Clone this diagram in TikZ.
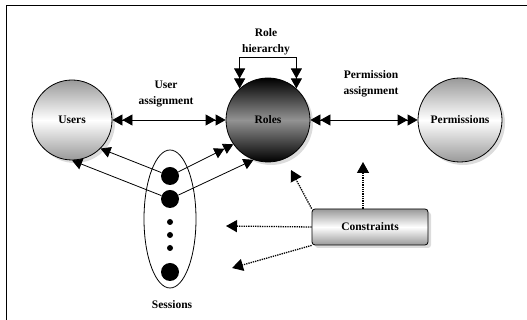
\documentclass[tikz,border=0pt]{standalone}
\usepackage{fontspec}
\setmainfont{Liberation Serif}
\usetikzlibrary{arrows.meta,shapes.geometric,shadows}

\begin{document}
\begin{tikzpicture}[x=1pt, y=1pt, line width=0.8pt,
  font=\bfseries\fontsize{11.5}{16}\selectfont,
  punta/.tip={Triangle[length=10pt,width=11pt]},
  doppia/.style={{punta[]punta[]}-{punta[]punta[]}},
  globo/.style={circle, draw, inner sep=0pt, minimum size=84pt,
    top color=gray!80, bottom color=gray!80, middle color=white,
    drop shadow={shadow xshift=3pt, shadow yshift=-3pt, fill=gray!55}},
  globoscuro/.style={globo, top color=black, bottom color=black, middle color=gray!85},
  puntone/.style={circle, fill, inner sep=0pt, minimum size=18pt},
  puntino/.style={circle, fill, inner sep=0pt, minimum size=6pt},
  vincolo/.style={densely dotted, line width=1.3pt, -{Triangle[length=11pt,width=12pt]}}]

\useasboundingbox (0,0) rectangle (527,320);

% Cornice
\draw[line width=1pt] (6,0) -- (6,314) -- (527,314);

% Utenti, ruoli, permessi
\node[globo, minimum size=80pt] (users) at (72,200) {Users};
\node[globoscuro] (roles) at (268,200) {Roles};
\node[globo] (perms) at (460,200) {Permissions};

% Etichette
\node[align=center] (ua) at (166,226) {User\\assignment};
\node[align=center] (rh) at (266,278) {Role\\hierarchy};
\node[align=center] (pa) at (371,236) {Permission\\assignment};

% Assegnazioni
\draw[doppia] (users) -- (roles);
\draw[doppia] (roles) -- (perms);
\draw[doppia] (roles.132) -- ++(0,31) -| (roles.48);

% Sessioni
\node[ellipse, draw, inner sep=0pt, minimum width=52pt, minimum height=138pt] (sessions) at (170,101) {};
\node[puntone] (s1) at (170,144) {};
\node[puntone] (s2) at (170,121) {};
\node[puntino] (d1) at (170,98) {};
\node[puntino] (d2) at (170,85) {};
\node[puntino] (d3) at (170,72) {};
\node[puntone] (sn) at (170,48) {};
\node (sesslabel) at (172,15) {Sessions};

\draw[-punta] (s1) -- (users.-45);
\draw[-punta] (s2) -- (users.-90);
\draw[-{punta[]punta[]}] (s1) -- (roles.-145);
\draw[-punta] (s2) -- (roles.-110);

% Vincoli
\node[draw, rounded corners=3pt, minimum width=116pt, minimum height=36pt,
  top color=gray!80, bottom color=gray!80, middle color=white,
  drop shadow={shadow xshift=3pt, shadow yshift=-3pt, fill=gray!55}] (cons) at (370,93) {Constraints};

\coordinate (c1) at (363,158);
\coordinate (c2) at (291,150);
\coordinate (c3) at (226,94);
\coordinate (c4) at (232,52);
\draw[vincolo] (cons.north -| c1) -- (c1);
\draw[vincolo] (cons.north west) -- (c2);
\draw[vincolo] (cons.west) -- (c3);
\draw[vincolo] (cons.south west) -- (c4);

\end{tikzpicture}
\end{document}
